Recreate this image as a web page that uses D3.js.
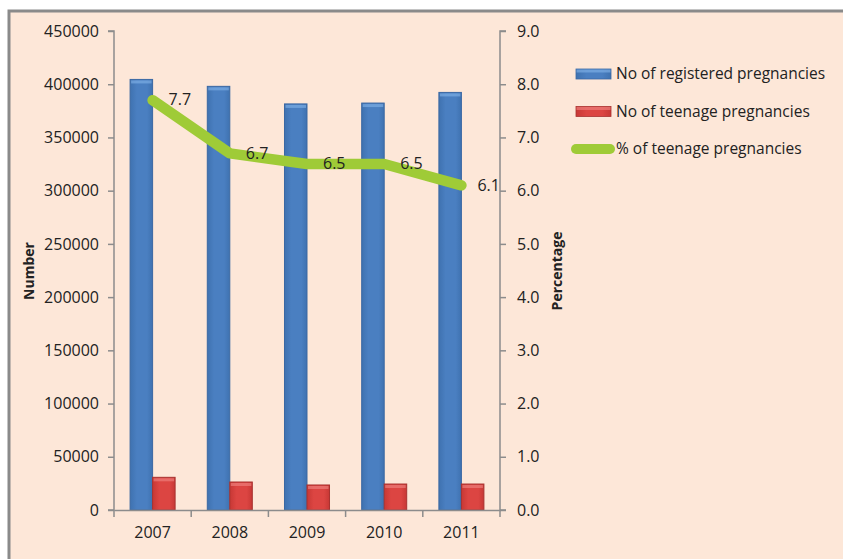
<!DOCTYPE html>
<html>
<head>
<meta charset="utf-8">
<script src="https://cdn.jsdelivr.net/npm/d3@7"></script>
<style>
  html, body { margin: 0; padding: 0; background: #fff; }
  svg text { font-family: "Open Sans", "Noto Sans", sans-serif; fill: #222; }
</style>
</head>
<body>
<div id="chart"></div>
<script>
(function(){
    // data
    var years        = ['2007', '2008', '2009', '2010', '2011'];
    var registered   = [404500, 398000, 381500, 382300, 392300];
    var teenage      = [30700, 26300, 23500, 24400, 24400];
    var percentTeen  = [7.7, 6.7, 6.5, 6.5, 6.1];
    var leftTicks    = [0, 50000, 100000, 150000, 200000, 250000, 300000, 350000, 400000, 450000];
    var rightTicks   = [0, 1, 2, 3, 4, 5, 6, 7, 8, 9];
    var legendNames  = ['No of registered pregnancies', 'No of teenage pregnancies', '% of teenage pregnancies'];

    var WIDTH  = 843,
        HEIGHT = 559,
        PLOT_LEFT   = 114,
        PLOT_RIGHT  = 500,
        PLOT_TOP    = 31,
        PLOT_BOTTOM = 510;

    var svg = d3.select('#chart')
        .append('svg')
        .attr('width', WIDTH)
        .attr('height', HEIGHT);

    // chart area with its grey frame (only top and left edges are inside the picture)
    svg.append('rect')
        .attr('x', 9).attr('y', 11)
        .attr('width', WIDTH + 20).attr('height', HEIGHT + 20)
        .attr('fill', '#fde7d8')
        .attr('stroke', '#8a8a8a')
        .attr('stroke-width', 3);

    var defs = svg.append('defs');
    function barGradient(id, edge, mid){
        var g = defs.append('linearGradient').attr('id', id)
            .attr('x1', '0').attr('x2', '1').attr('y1', '0').attr('y2', '0');
        g.append('stop').attr('offset', '0%').attr('stop-color', edge);
        g.append('stop').attr('offset', '30%').attr('stop-color', mid);
        g.append('stop').attr('offset', '75%').attr('stop-color', mid);
        g.append('stop').attr('offset', '100%').attr('stop-color', edge);
    }
    barGradient('gBlue', '#3f72b0', '#4a7fc1');
    barGradient('gRed', '#c73835', '#dc4542');

    var x = d3.scaleBand()
        .domain(years)
        .range([PLOT_LEFT, PLOT_RIGHT])
        .paddingInner(0)
        .paddingOuter(0);

    // two bars side by side in the middle of each year
    var xs = d3.scaleBand()
        .domain(['reg', 'teen'])
        .range([0, x.bandwidth()])
        .paddingInner(0)
        .paddingOuter(0.715);

    var yL = d3.scaleLinear().domain([0, 450000]).range([PLOT_BOTTOM, PLOT_TOP]);
    var yR = d3.scaleLinear().domain([0, 9]).range([PLOT_BOTTOM, PLOT_TOP]);

    // axes
    var axisColor = '#8c8c8c';

    var leftAxis = svg.append('g')
        .attr('transform', 'translate(' + PLOT_LEFT + ',0)')
        .call(d3.axisLeft(yL).tickValues(leftTicks).tickSize(6).tickPadding(9).tickFormat(d3.format('d')));

    var rightAxis = svg.append('g')
        .attr('transform', 'translate(' + PLOT_RIGHT + ',0)')
        .call(d3.axisRight(yR).tickValues(rightTicks).tickSize(6).tickPadding(11).tickFormat(d3.format('.1f')));

    [leftAxis, rightAxis].forEach(function(a){
        a.select('.domain').attr('stroke', axisColor).attr('stroke-width', 1.5);
        a.selectAll('.tick line').attr('stroke', axisColor).attr('stroke-width', 1.5);
        a.selectAll('.tick text').attr('font-size', 16).attr('fill', '#222');
    });
    rightAxis.select('.domain').attr('d', 'M6,' + PLOT_TOP + 'H0V' + PLOT_BOTTOM + 'H6');
    leftAxis.select('.domain').attr('d', 'M-6,' + PLOT_TOP + 'H0V' + PLOT_BOTTOM + 'H-6');

    // bars
    var groups = svg.append('g').attr('class', 'bars')
        .selectAll('g')
        .data(years)
        .enter().append('g')
        .attr('transform', function(d){ return 'translate(' + x(d) + ',0)'; });

    function drawBars(values, key, fill, stroke, top){
        groups.append('rect')
            .attr('x', xs(key))
            .attr('y', function(d, i){ return yL(values[i]); })
            .attr('width', xs.bandwidth())
            .attr('height', function(d, i){ return PLOT_BOTTOM - yL(values[i]); })
            .attr('fill', fill)
            .attr('stroke', stroke)
            .attr('stroke-width', 1);
        groups.append('rect')
            .attr('x', xs(key) + 1)
            .attr('y', function(d, i){ return yL(values[i]) + 1; })
            .attr('width', xs.bandwidth() - 2)
            .attr('height', 3)
            .attr('fill', top)
            .attr('opacity', 0.6);
    }
    drawBars(registered, 'reg', 'url(#gBlue)', '#3a68a3', '#84b4ea');
    drawBars(teenage, 'teen', 'url(#gRed)', '#a83230', '#f08784');

    // x axis (drawn after bars so the baseline sits on top)
    var bottomAxis = svg.append('g')
        .attr('transform', 'translate(0,' + PLOT_BOTTOM + ')')
        .call(d3.axisBottom(x).tickSize(0).tickPadding(17));
    bottomAxis.select('.domain').attr('stroke', axisColor).attr('stroke-width', 1.5);
    bottomAxis.selectAll('.tick text').attr('font-size', 16).attr('fill', '#222');
    var bounds = years.map(function(d){ return x(d); }).concat([x(years[years.length - 1]) + x.bandwidth()]);
    bottomAxis.selectAll('.sep')
        .data(bounds)
        .enter().append('line')
        .attr('class', 'sep')
        .attr('x1', function(d){ return d; }).attr('x2', function(d){ return d; })
        .attr('y1', 0).attr('y2', 7)
        .attr('stroke', axisColor).attr('stroke-width', 1.5);

    // percentage line
    var line = d3.line()
        .x(function(d, i){ return x(years[i]) + x.bandwidth() / 2; })
        .y(function(d){ return yR(d); });

    svg.append('path')
        .datum(percentTeen)
        .attr('d', line)
        .attr('fill', 'none')
        .attr('stroke', '#9fcb37')
        .attr('stroke-width', 10.5)
        .attr('stroke-linejoin', 'round')
        .attr('stroke-linecap', 'round');

    svg.append('g').selectAll('text')
        .data(percentTeen)
        .enter().append('text')
        .attr('x', function(d, i){ return x(years[i]) + x.bandwidth() / 2 + 16; })
        .attr('y', function(d){ return yR(d); })
        .attr('dy', '0.33em')
        .attr('font-size', 16)
        .text(function(d){ return d3.format('.1f')(d); });

    // axis titles
    svg.append('text')
        .attr('transform', 'translate(34,271) rotate(-90)')
        .attr('text-anchor', 'middle')
        .attr('font-size', 14)
        .attr('font-weight', 'bold')
        .text('Number');

    svg.append('text')
        .attr('transform', 'translate(562,271) rotate(-90)')
        .attr('text-anchor', 'middle')
        .attr('font-size', 14)
        .attr('font-weight', 'bold')
        .text('Percentage');

    // legend
    var legend = svg.append('g').attr('transform', 'translate(576,74)');
    var legendRows = [
        { name: legendNames[0], type: 'bar', fill: 'url(#gBlue)', stroke: '#3a68a3', top: '#84b4ea' },
        { name: legendNames[1], type: 'bar', fill: 'url(#gRed)', stroke: '#a83230', top: '#f08784' },
        { name: legendNames[2], type: 'line', stroke: '#9fcb37' }
    ];
    legendRows.forEach(function(r, i){
        var g = legend.append('g').attr('transform', 'translate(0,' + (i * 37.5) + ')');
        if(r.type === 'bar'){
            g.append('rect').attr('x', 0).attr('y', -5).attr('width', 35).attr('height', 10)
                .attr('fill', r.fill).attr('stroke', r.stroke).attr('stroke-width', 0.8);
            g.append('rect').attr('x', 0.5).attr('y', -4.5).attr('width', 34).attr('height', 3)
                .attr('fill', r.top).attr('opacity', 0.6);
        } else {
            g.append('line').attr('x1', 0).attr('x2', 34).attr('y1', 0).attr('y2', 0)
                .attr('stroke', r.stroke).attr('stroke-width', 10).attr('stroke-linecap', 'round');
        }
        g.append('text')
            .attr('x', 40)
            .attr('y', 0)
            .attr('dy', '0.33em')
            .attr('font-size', 15.5)
            .text(r.name);
    });
})();
</script>
</body>
</html>
